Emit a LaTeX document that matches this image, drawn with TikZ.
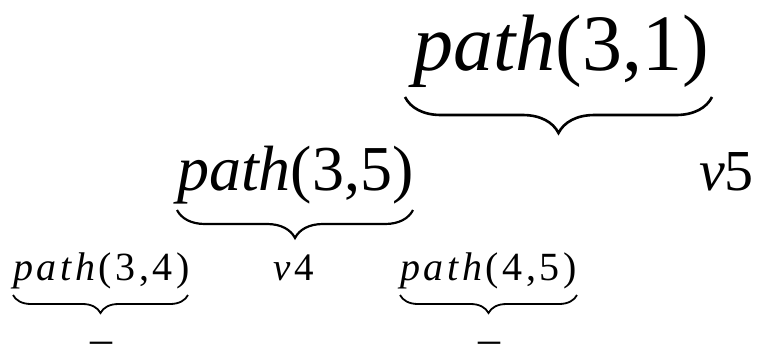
\documentclass[tikz,border=0pt]{standalone}
\usepackage{fontspec}
\setmainfont{Liberation Serif}
\newfontfamily\spacedfont[LetterSpace=9]{Liberation Serif}
\usetikzlibrary{decorations.pathreplacing}

\tikzset{
  ubrace/.style={decorate, decoration={brace, mirror, amplitude=#1}},
  lbl/.style={anchor=base west, inner sep=0pt},
}

\begin{document}
\begin{tikzpicture}[x=1pt,y=-1pt]
\useasboundingbox (0,0) rectangle (759,349);
\node[lbl, font=\fontsize{80}{84}\selectfont] (p31) at (413,70) {\textit{path}(3,1)};
\draw[ubrace=36, line width=2.6pt] (405,97) -- (712,97);
\node[lbl, font=\fontsize{64}{66}\selectfont] (p35) at (177,190) {\textit{path}(3,5)};
\node[lbl, font=\fontsize{58}{60}\selectfont] (v5) at (699,190) {\textit{v}5};
\draw[ubrace=28, line width=2.2pt] (177,210) -- (413,210);
\node[lbl, font=\spacedfont\fontsize{40}{44}\selectfont] (p34) at (13,280) {\textit{path}(3,4)};
\node[lbl, font=\spacedfont\fontsize{39}{42}\selectfont] (v4) at (273,280) {\textit{v}4};
\node[lbl, font=\spacedfont\fontsize{40}{44}\selectfont] (p45) at (400,280) {\textit{path}(4,5)};
\draw[ubrace=18, line width=1.8pt] (13,295) -- (188,295);
\draw[ubrace=18, line width=1.8pt] (400,295) -- (577,295);
\node[font=\fontsize{44}{48}\selectfont, anchor=base, inner sep=0pt] (d1) at (101,353) {\smash{–}};
\node[font=\fontsize{44}{48}\selectfont, anchor=base, inner sep=0pt] (d2) at (489,353) {\smash{–}};
\end{tikzpicture}
\end{document}
